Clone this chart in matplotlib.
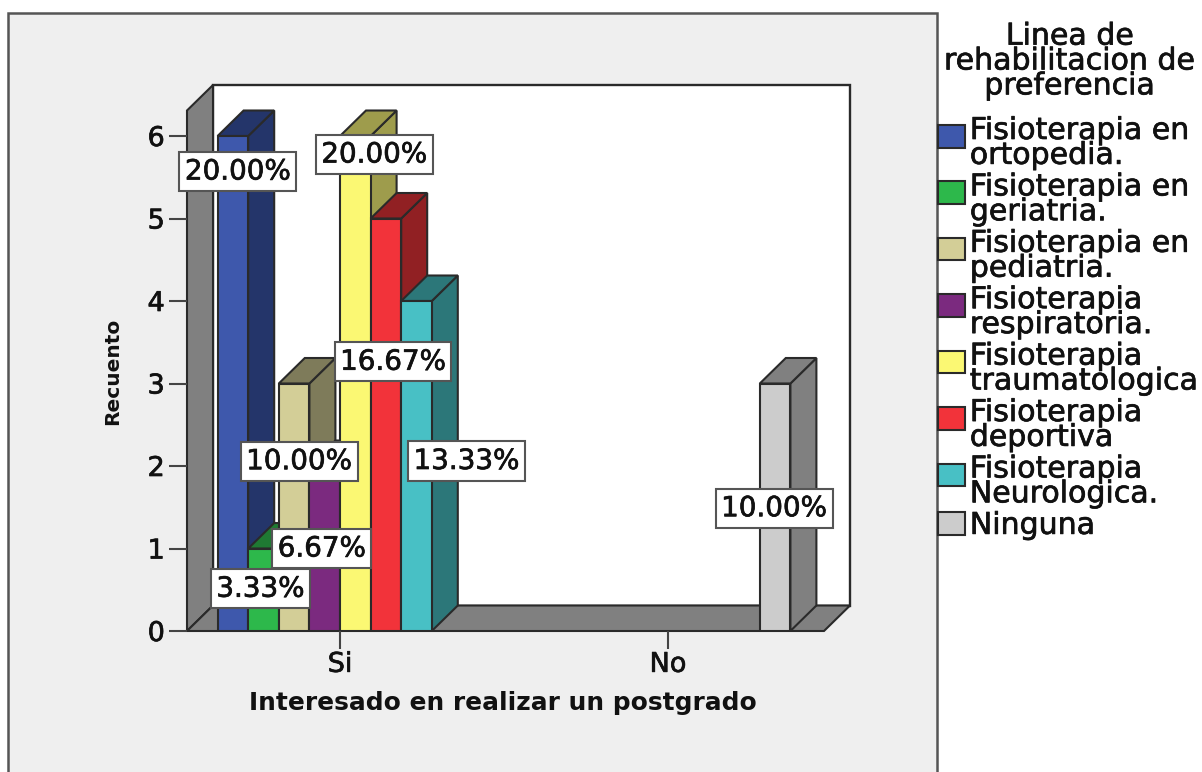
import matplotlib
matplotlib.use('Agg')
import matplotlib.pyplot as plt
import matplotlib.patches as mpatches
import matplotlib.patheffects as pe

categories = ['Si', 'No']
series_names = ['Fisioterapia en\nortopedia.', 'Fisioterapia en\ngeriatria.', 'Fisioterapia en\npediatria.',
                'Fisioterapia\nrespiratoria.', 'Fisioterapia\ntraumatologica', 'Fisioterapia\ndeportiva',
                'Fisioterapia\nNeurologica.', 'Ninguna']
ortopedia = [6, 0]
geriatria = [1, 0]
pediatria = [3, 0]
respiratoria = [2, 0]
traumatologica = [6, 0]
deportiva = [5, 0]
neurologica = [4, 0]
ninguna = [0, 3]
counts = [ortopedia, geriatria, pediatria, respiratoria, traumatologica, deportiva, neurologica, ninguna]
percents = ['20.00%', '3.33%', '10.00%', '6.67%', '20.00%', '16.67%', '13.33%', '10.00%']

colors = ['#3E58AC', '#2DB84B', '#D3CE97', '#7B2A7F', '#FBF873', '#F2333A', '#48C0C5', '#CCCCCC']
side_colors = ['#24356A', '#1F7A33', '#7E7B5A', '#4A194C', '#9E9C4C', '#912023', '#2C7779', '#808080']
# label shift from the middle of each bar, in pixels
label_shift = [(5, 212), (-3, 1), (5, 46), (-3, 0), (19, 229), (7, 63), (50, 5), (-1, -1)]

W, H = 1202, 772
EDGE = '#2a2a2a'
GRAY = '#808080'
TEXT = '#111111'
# the reference text is a bit heavier than plain DejaVu
heavy = [pe.withStroke(linewidth=0.5, foreground=TEXT)]

fig = plt.figure(figsize=(W / 100, H / 100), dpi=100, facecolor='white')
fig.add_artist(mpatches.Rectangle((8 / W, -0.02), 929 / W, 1.02 - 13 / H, transform=fig.transFigure,
                                  facecolor='#EFEFEF', edgecolor='#555555', linewidth=1.8, zorder=-1))

ax = fig.add_axes([187 / W, (H - 631) / H, 663 / W, 546 / H])
ax.patch.set_alpha(0)
for s in ax.spines.values():
    s.set_visible(False)

# one category step is 328 px, one count is 82.5 px
xmin = -153 / 328
xmax = xmin + 663 / 328
ymax = 546 / 82.5
ax.set_xlim(xmin, xmax)
ax.set_ylim(0, ymax)
dx = 26 / 328
dy = 25.5 / 82.5
bar_w = 30.6 / 328
x_front = xmax - dx

# back wall, left wall and floor
ax.fill([xmin + dx, xmax, xmax, xmin + dx], [dy, dy, ymax, ymax], facecolor='white', edgecolor=EDGE, lw=1.7, zorder=1,
        clip_on=False)
ax.fill([xmin, xmin + dx, xmin + dx, xmin], [0, dy, ymax, ymax - dy], facecolor=GRAY, edgecolor=EDGE, lw=1.5, zorder=1,
        clip_on=False)
ax.fill([xmin, x_front, xmax, xmin + dx], [0, 0, dy, dy], facecolor=GRAY, edgecolor=EDGE, lw=1.5, zorder=1,
        clip_on=False)

z = 2
labels = iter(zip(percents, label_shift))
for i, vals in enumerate(counts):
    for c, v in enumerate(vals):
        if v == 0:
            continue
        left = c + (i - 4) * bar_w
        right = left + bar_w
        # side and top of the block
        ax.fill([right, right + dx, right + dx, right], [0, dy, v + dy, v], facecolor=side_colors[i],
                edgecolor=EDGE, lw=1.5, zorder=z)
        ax.fill([left, left + dx, right + dx, right], [v, v + dy, v + dy, v], facecolor=side_colors[i],
                edgecolor=EDGE, lw=1.5, zorder=z)
        ax.bar(left, v, bar_w, align='edge', color=colors[i], edgecolor=EDGE, lw=1.5, zorder=z)
        z += 1
        txt, shift = next(labels)
        ax.annotate(txt, xy=(left + bar_w / 2, v / 2), xytext=shift, textcoords='offset pixels',
                    ha='center', va='center', fontsize=20, color=TEXT, zorder=50, path_effects=heavy,
                    bbox=dict(boxstyle='square,pad=0.2', fc='white', ec='#555555', lw=1.5))

ax.set_xticks(range(len(categories)))
ax.set_xticklabels(categories)
ax.set_yticks(range(0, 7))
ax.tick_params(axis='both', length=13, width=1.5, color='#444444', labelsize=19.5, labelcolor=TEXT, pad=3)
ax.tick_params(axis='x', pad=2)
for t in ax.get_xticklabels() + ax.get_yticklabels():
    t.set_path_effects(heavy)

fig.text(113 / W, 1 - 371 / H, 'Recuento', rotation=90, ha='center', va='center', fontsize=14.5,
         fontweight='bold', color=TEXT)
fig.text(503 / W, 1 - 703 / H, 'Interesado en realizar un postgrado', ha='center', va='center', fontsize=17.9,
         fontweight='bold', color=TEXT)

fig.text(1070 / W, 1 - 61 / H, 'Linea de\nrehabilitacion de\npreferencia', ha='center', va='center',
         fontsize=21.6, linespacing=0.82, color=TEXT, path_effects=heavy)

handles = [mpatches.Patch(facecolor=colors[i], edgecolor=EDGE, lw=1.5) for i in range(len(colors))]
leg = fig.legend(handles, series_names, loc='upper left', bbox_to_anchor=(938 / W, 1 - 116 / H), frameon=False,
                 fontsize=21.6, handlelength=0.9, handleheight=0.78, handletextpad=0.16, labelspacing=0.085,
                 borderpad=0, borderaxespad=0)
for t in leg.get_texts():
    t.set_linespacing(0.82)
    t.set_color(TEXT)
    t.set_path_effects(heavy)
# keys sit higher than the two line labels, next to the first line
for h, name in zip(leg.legend_handles, series_names):
    if '\n' in name:
        h.set_y(h.get_y() + 5.5)

fig.savefig('out.png', dpi=100)
